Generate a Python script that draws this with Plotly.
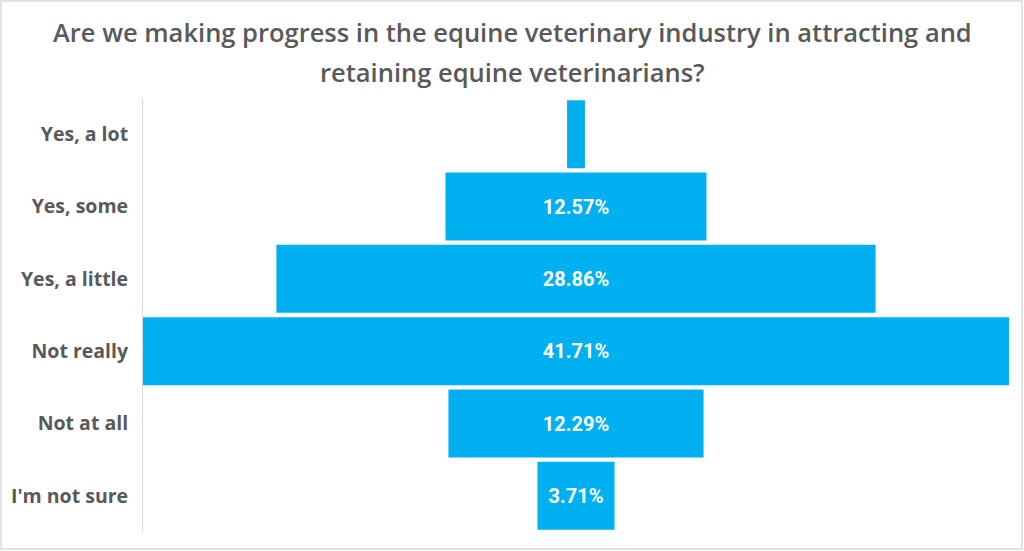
import plotly.graph_objects as go

categories = ["Yes, a lot", "Yes, some", "Yes, a little", "Not really", "Not at all", "I'm not sure"]
values = [0.86, 12.57, 28.86, 41.71, 12.29, 3.71]
labels = ["" if v < 2 else f"{v:.2f}%" for v in values]

title_lines = [
    "Are we making progress in the equine veterinary industry in attracting and",
    "retaining equine veterinarians?",
]

W, H = 1024, 551
ml, mr, mt, mb = 143, 15, 98, 19
pw = W - ml - mr
ph = H - mt - mb

fig = go.Figure(go.Funnel(
    y=categories,
    x=values,
    text=labels,
    textinfo="text",
    textposition="inside",
    insidetextanchor="middle",
    textfont=dict(color="white", size=20, family="Roboto", weight="bold"),
    marker=dict(color="#00B0F0", line=dict(width=0)),
    connector=dict(visible=False),
    hoverinfo="y+x",
))

m = max(values) / 2
fig.update_layout(
    width=W, height=H,
    margin=dict(l=ml, r=mr, t=mt, b=mb),
    paper_bgcolor="white",
    plot_bgcolor="white",
    xaxis=dict(range=[-m, m], visible=False, fixedrange=True, automargin=False),
    yaxis=dict(
        showline=True, linecolor="#d9d9d9", linewidth=1,
        ticks="", showgrid=False, automargin=False,
        tickfont=dict(family="Open Sans", size=19.5, color="#595959", weight="bold"),
        ticklabelstandoff=10,
    ),
    funnelgap=0.06,
    showlegend=False,
)

for line, yc in zip(title_lines, [32, 72]):
    fig.add_annotation(
        text=line, showarrow=False,
        xref="paper", yref="paper",
        x=(W / 2 - ml) / pw, xanchor="center",
        y=(H - yc - mb) / ph, yanchor="middle",
        font=dict(family="Open Sans", size=25.5, color="#595959", weight=600),
    )

fig.add_shape(
    type="rect", xref="paper", yref="paper",
    x0=-(ml - 1) / pw, x1=(pw + mr - 2) / pw,
    y0=-(mb - 2) / ph, y1=(ph + mt - 1) / ph,
    line=dict(color="#d9d9d9", width=1.5), fillcolor="rgba(0,0,0,0)", layer="below",
)

fig.write_html(
    "out.html",
    config={"displayModeBar": False},
    post_script="document.body.style.margin='0';document.body.style.overflow='hidden';",
)
